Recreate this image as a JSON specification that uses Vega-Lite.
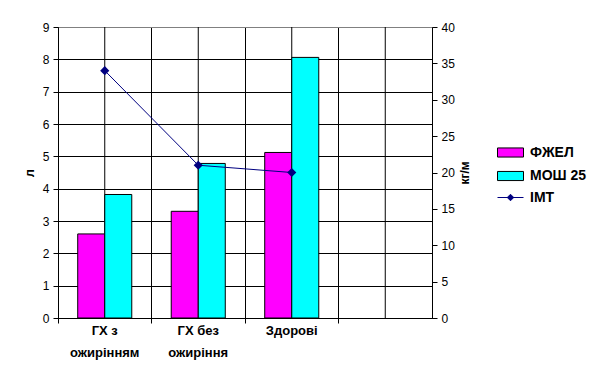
{
  "$schema": "https://vega.github.io/schema/vega-lite/v6.json",
  "width": 374,
  "height": 291,
  "autosize": "none",
  "padding": {"left": 58, "top": 27, "right": 168, "bottom": 74},
  "background": "white",
  "config": {
    "font": "Liberation Sans",
    "view": {"stroke": "#808080", "strokeWidth": 1}
  },
  "data": {
    "values": [
      {"group": "ГХ з ожирінням", "ФЖЕЛ": 2.6, "МОШ 25": 3.82, "ІМТ": 34},
      {"group": "ГХ без ожиріння", "ФЖЕЛ": 3.3, "МОШ 25": 4.78, "ІМТ": 21},
      {"group": "Здорові", "ФЖЕЛ": 5.12, "МОШ 25": 8.06, "ІМТ": 20},
      {"group": "", "ФЖЕЛ": null, "МОШ 25": null, "ІМТ": null}
    ]
  },
  "layer": [
    {
      "mark": {"type": "rule", "color": "black", "strokeWidth": 1},
      "encoding": {
        "x": {
          "field": "group",
          "type": "nominal",
          "scale": {"domain": ["ГХ з ожирінням", "ГХ без ожиріння", "Здорові", ""], "paddingInner": 0, "paddingOuter": 0},
          "axis": {
            "title": null,
            "bandPosition": 0,
            "grid": true,
            "gridColor": "black",
            "gridOpacity": 1,
            "gridWidth": 1,
            "domainColor": "black",
            "domainWidth": 1,
            "tickColor": "black",
            "tickSize": 5,
            "labelAngle": 0,
            "labelFont": "Liberation Sans",
            "labelFontSize": 13,
            "labelFontWeight": "bold",
            "labelColor": "black",
            "labelPadding": 1,
            "labelLineHeight": 22,
            "labelBaseline": "top",
            "labelExpr": "datum.label == 'ГХ з ожирінням' ? ['ГХ з', 'ожирінням'] : datum.label == 'ГХ без ожиріння' ? ['ГХ без', 'ожиріння'] : datum.label"
          }
        }
      }
    },
    {
      "transform": [
        {"fold": ["ФЖЕЛ", "МОШ 25"], "as": ["series", "value"]},
        {"filter": "datum.value != null"}
      ],
      "mark": {"type": "bar", "stroke": "black", "strokeWidth": 1},
      "encoding": {
        "x": {"field": "group", "type": "nominal"},
        "xOffset": {"field": "series", "type": "nominal", "scale": {"domain": ["ФЖЕЛ", "МОШ 25"], "paddingInner": 0, "paddingOuter": 0.73}},
        "y": {
          "field": "value",
          "type": "quantitative",
          "scale": {"domain": [0, 9], "nice": false},
          "axis": {
            "title": "л",
            "titleFontSize": 13,
            "titleFontWeight": "bold",
            "titleColor": "black",
            "titlePadding": 6,
            "values": [0, 1, 2, 3, 4, 5, 6, 7, 8, 9],
            "grid": true,
            "gridColor": {"condition": {"test": "datum.value == 9", "value": "#808080"}, "value": "black"},
            "gridOpacity": 1,
            "domainColor": "black",
            "tickColor": "black",
            "tickSize": 5,
            "labelFontSize": 12,
            "labelColor": "black",
            "labelPadding": 4
          }
        },
        "color": {
          "field": "series",
          "type": "nominal",
          "scale": {"domain": ["ФЖЕЛ", "МОШ 25"], "range": ["#FF00FF", "#00FFFF"]},
          "legend": {
            "title": null,
            "orient": "none",
            "legendX": 439,
            "legendY": 118.5,
            "padding": 0,
            "symbolType": "M-1,-0.7H3V0.7H-1Z",
            "symbolSize": 169,
            "symbolStrokeColor": "black",
            "symbolStrokeWidth": 1,
            "symbolOpacity": 1,
            "rowPadding": 9.5,
            "labelOffset": 19,
            "labelFont": "Liberation Sans",
            "labelFontSize": 14,
            "labelFontWeight": "bold",
            "labelColor": "black"
          }
        }
      }
    },
    {
      "transform": [
        {"fold": ["ІМТ"], "as": ["series", "value"]},
        {"filter": "datum.value != null"}
      ],
      "mark": {"type": "line", "strokeWidth": 1, "point": {"shape": "diamond", "size": 40, "filled": true, "color": "#000080"}},
      "encoding": {
        "x": {"field": "group", "type": "nominal"},
        "y": {
          "field": "value",
          "type": "quantitative",
          "scale": {"domain": [0, 40], "nice": false},
          "axis": {
            "orient": "right",
            "title": "кг/м",
            "titleAngle": 270,
            "titleBaseline": "top",
            "titleFontSize": 12,
            "titleFontWeight": "bold",
            "titleColor": "black",
            "titlePadding": 5,
            "values": [0, 5, 10, 15, 20, 25, 30, 35, 40],
            "grid": false,
            "domainColor": "black",
            "tickColor": "black",
            "tickSize": 5,
            "labelFontSize": 12,
            "labelColor": "black",
            "labelPadding": 4
          }
        },
        "stroke": {
          "field": "series",
          "type": "nominal",
          "scale": {"domain": ["ІМТ"], "range": ["#000080"]},
          "legend": {
            "title": null,
            "orient": "none",
            "legendX": 439,
            "legendY": 163.5,
            "padding": 0,
            "symbolType": "M-1,0H3M0.5,0L1,-0.5L1.5,0L1,0.5Z",
            "symbolSize": 169,
            "symbolFillColor": "#000080",
            "symbolStrokeWidth": 1,
            "symbolOpacity": 1,
            "labelOffset": 19,
            "labelFont": "Liberation Sans",
            "labelFontSize": 14,
            "labelFontWeight": "bold",
            "labelColor": "black"
          }
        }
      }
    }
  ],
  "resolve": {"scale": {"y": "independent"}, "axis": {"y": "independent"}}
}
